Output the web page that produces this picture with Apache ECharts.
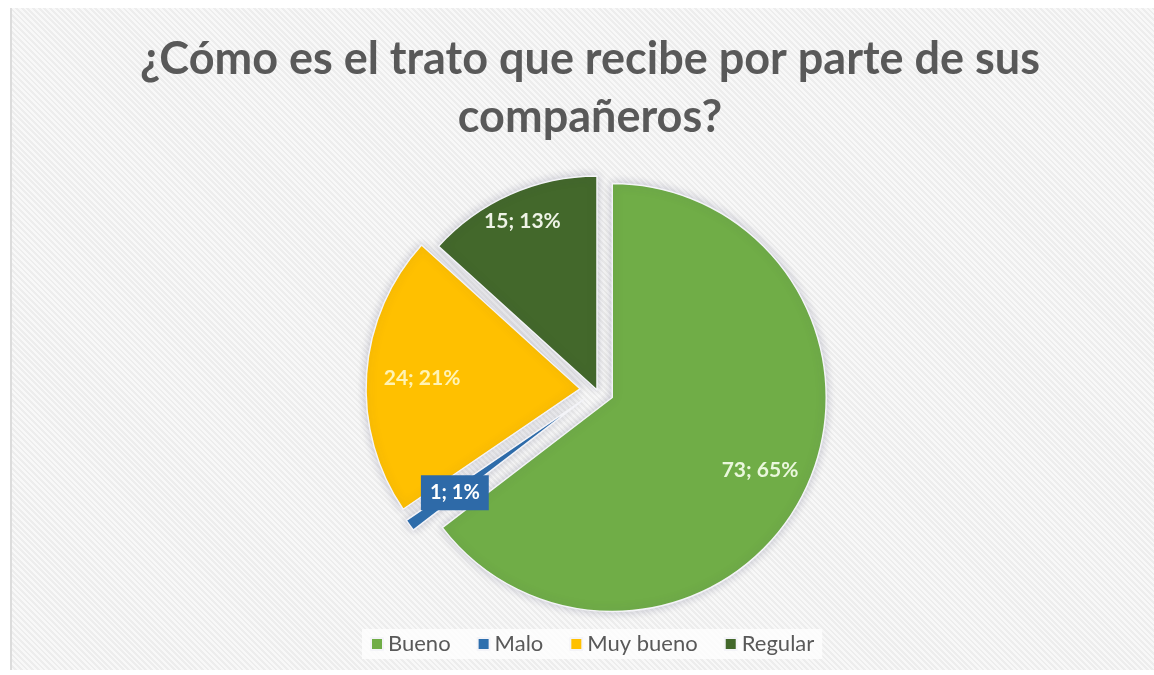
<!DOCTYPE html>
<html>
<head>
<meta charset="utf-8">
<script src="https://cdn.jsdelivr.net/npm/echarts@6/dist/echarts.min.js"></script>
<style>
  html, body { margin: 0; padding: 0; background: #ffffff; }
  #frame {
    position: absolute; left: 10px; top: 8px; width: 1144px; height: 662px;
    border-left: 2px solid #dcdcdc;
    background-color: #f4f4f4;
    background-image: repeating-linear-gradient(45deg, #f8f8f8 0px, #f8f8f8 2px, #ededed 2px, #ededed 4px);
  }
  #chart { position: absolute; left: 0; top: 0; width: 1154px; height: 675px; }
</style>
</head>
<body>
<div id="frame"></div>
<div id="chart"></div>
<script>
// Survey answers: how classmates treat the respondent
const categories = ['Bueno', 'Malo', 'Muy bueno', 'Regular'];
const counts = [73, 1, 24, 15];
const percents = [65, 1, 21, 13];

// Slice styling
const sliceColors = ['#70ad47', '#2e6fae', '#ffc000', '#43682b'];
const exploded = [true, true, true, false];
const labelColors = ['#eaf7dc', '#ffffff', '#fff3b5', '#eef3e6'];
const labelRadialFraction = [0.77, 0.74, 0.74, 0.86];

const CENTER = [597, 390];
const RADIUS = 214;

const total = counts.reduce((a, b) => a + b, 0);

// Shift each label radially from ECharts' default inside spot (r/2 + 3)
function labelOffset(i) {
  let before = 0;
  for (let k = 0; k < i; k++) before += counts[k];
  const mid = (before + counts[i] / 2) / total * Math.PI * 2;
  const nx = Math.sin(mid), ny = -Math.cos(mid);
  const extra = labelRadialFraction[i] * RADIUS - RADIUS / 2 - 3;
  return [nx * extra, ny * extra];
}

const seriesData = categories.map((name, i) => {
  const lbl = {
    offset: labelOffset(i),
    color: labelColors[i]
  };
  if (name === 'Malo') {
    lbl.backgroundColor = '#2e6aa8';
    lbl.padding = [8, 9, 7, 9];
    lbl.fontSize = 20;
  }
  return {
    name: name,
    value: counts[i],
    selected: exploded[i],
    itemStyle: { color: sliceColors[i] },
    label: lbl,
    select: { label: lbl }
  };
});

const chart = echarts.init(document.getElementById('chart'), null, { renderer: 'canvas' });
chart.setOption({
  backgroundColor: 'transparent',
  animation: false,
  title: {
    text: '¿Cómo es el trato que recibe por parte de sus\ncompañeros?',
    left: 585,
    top: 25,
    textAlign: 'center',
    textStyle: {
      fontFamily: 'Lato, "Open Sans", sans-serif',
      fontSize: 45,
      fontWeight: 'bold',
      lineHeight: 58,
      color: '#595959'
    }
  },
  legend: {
    data: categories,
    left: 362,
    top: 629,
    itemWidth: 12,
    itemHeight: 12,
    itemGap: 26,
    icon: 'rect',
    selectedMode: false,
    backgroundColor: 'rgba(255,255,255,0.75)',
    padding: [4, 8],
    textStyle: {
      fontFamily: 'Lato, "Open Sans", sans-serif',
      fontSize: 22,
      color: '#595959'
    }
  },
  series: [{
    type: 'pie',
    center: CENTER,
    radius: RADIUS,
    startAngle: 90,
    clockwise: true,
    selectedMode: 'multiple',
    selectedOffset: 17,
    avoidLabelOverlap: false,
    itemStyle: {
      borderColor: '#f4f4f8',
      borderWidth: 1.5,
      shadowBlur: 10,
      shadowColor: 'rgba(60,60,100,0.25)'
    },
    label: {
      show: true,
      position: 'inside',
      fontFamily: 'Lato, "Open Sans", sans-serif',
      fontWeight: 'bold',
      fontSize: 21,
      formatter: (p) => counts[p.dataIndex] + '; ' + percents[p.dataIndex] + '%'
    },
    labelLine: { show: false },
    emphasis: { disabled: true },
    data: seriesData
  }]
});
</script>
</body>
</html>
